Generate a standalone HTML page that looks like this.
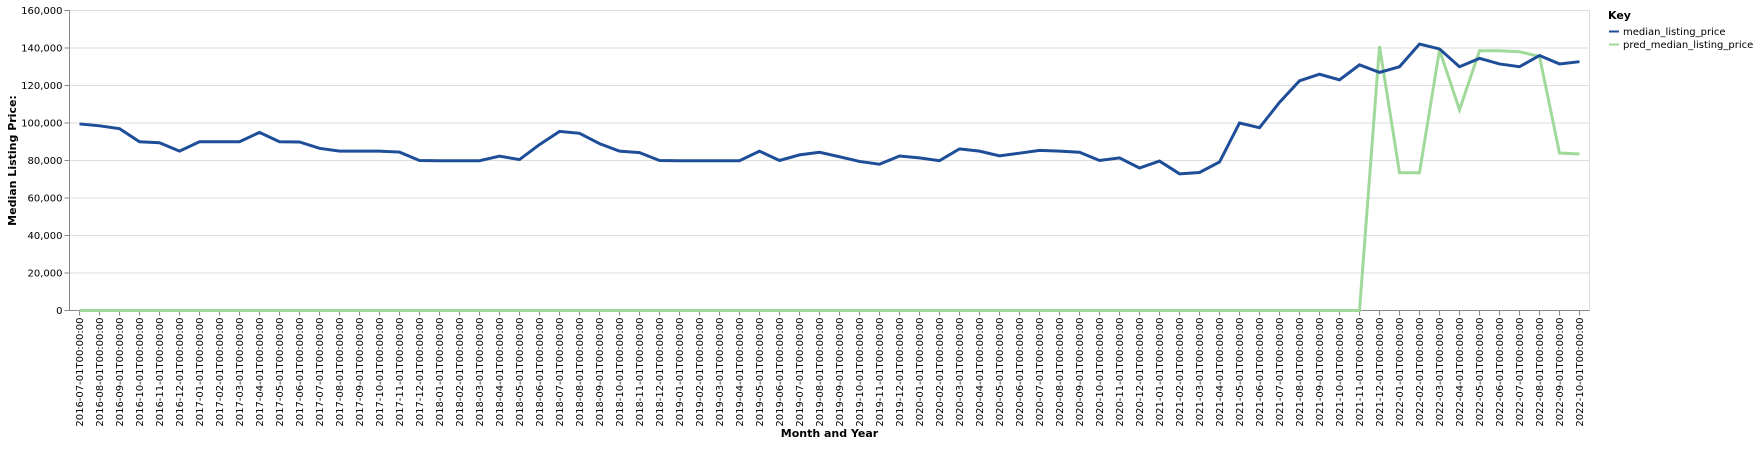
<!DOCTYPE html>
<html><head><meta charset="utf-8"><style>
body{margin:0;background:#fff;font-family:"DejaVu Sans","Liberation Sans",sans-serif}
svg text{font-family:"DejaVu Sans","Liberation Sans",sans-serif}
</style></head><body>
<svg id="chart" width="1759" height="447" xmlns="http://www.w3.org/2000/svg"></svg>
<script>
const months = [];
for (let y = 2016, m = 7; !(y === 2022 && m === 11); ) { months.push(y + '-' + String(m).padStart(2, '0') + '-01T00:00:00'); m++; if (m > 12) { m = 1; y++; } }
const medianPrice = [99500,98500,97000,90000,89500,85000,90000,90000,90000,95000,90000,89900,86500,85000,85000,85000,84500,80000,79900,79900,79900,82300,80500,88500,95500,94500,89000,85000,84200,80000,79900,79900,79900,79900,85000,80000,83000,84400,82000,79500,78000,82400,81400,79900,86200,85000,82500,83900,85400,85000,84400,80000,81400,76000,79700,72900,73600,79200,100000,97500,111000,122500,126000,123000,131000,127000,130000,142100,139500,130000,134500,131500,130000,136000,131500,132700];
const predPrice = [];
for (let i = 0; i < 65; i++) predPrice.push(0);
predPrice.push(141000,73500,73500,139000,107000,138500,138500,138000,135500,84000,83500);
const yTicks = [0,20000,40000,60000,80000,100000,120000,140000,160000];

const NS = 'http://www.w3.org/2000/svg';
const svg = document.getElementById('chart');
const L = 69.5, R = 1589.5, T = 10.5, B = 310.5;
const step = (R - L) / months.length;
const x = i => L + step * (i + 0.5);
const y = v => B - v / 160000 * (B - T);
function mk(tag, attrs, parent) { const e = document.createElementNS(NS, tag); for (const k in attrs) e.setAttribute(k, attrs[k]); (parent || svg).appendChild(e); return e; }

const grid = mk('g', {});


yTicks.forEach(t => {
  mk('line', {x1: L, x2: R, y1: y(t), y2: y(t), stroke: '#ddd', 'stroke-width': 1}, grid);
  mk('line', {x1: L - 5, x2: L, y1: y(t), y2: y(t), stroke: '#888'});
  const lb = mk('text', {x: L - 7, y: y(t) + 3.5, 'text-anchor': 'end', 'font-size': 10, fill: '#000'});
  lb.textContent = t.toLocaleString('en-US');
  
  
});
mk('line', {x1: R, x2: R, y1: T, y2: B, stroke: '#ddd'}, grid);
mk('line', {x1: L, x2: L, y1: T, y2: B, stroke: '#888'});
mk('line', {x1: L, x2: R, y1: B, y2: B, stroke: '#888'});
months.forEach((m, i) => {
  mk('line', {x1: x(i), x2: x(i), y1: B, y2: B + 5, stroke: '#888'});
  const t = mk('text', {transform: `translate(${x(i) + 3.5},${B + 7}) rotate(-90)`, 'text-anchor': 'end', 'font-size': 10, fill: '#000'});
  t.textContent = m;
  
  
});
function line(data, color, name) {
  const p = mk('path', {d: data.map((v, i) => (i ? 'L' : 'M') + x(i).toFixed(2) + ',' + y(v).toFixed(2)).join(''), fill: 'none', stroke: color, 'stroke-width': 3});
  
  
}
line(predPrice, '#a1d99b', 'pred-median-listing-price-line');
line(medianPrice, '#1f4e99', 'median-listing-price-line');

const xt = mk('text', {x: (L + R) / 2, y: 437, 'text-anchor': 'middle', 'font-size': 11, 'font-weight': 'bold'});
xt.textContent = 'Month and Year';


const yt = mk('text', {transform: `translate(16,${(T + B) / 2}) rotate(-90)`, 'text-anchor': 'middle', 'font-size': 11, 'font-weight': 'bold'});
yt.textContent = 'Median Listing Price:';



const lg = mk('g', {});


const kt = mk('text', {x: 1608, y: 19, 'font-size': 11, 'font-weight': 'bold'}, lg);
kt.textContent = 'Key';
[['median_listing_price', '#1f4e99'], ['pred_median_listing_price', '#a1d99b']].forEach((e, i) => {
  const g = mk('g', {}, lg);
  
  
  mk('line', {x1: 1609, x2: 1619, y1: 31.5 + i * 13, y2: 31.5 + i * 13, stroke: e[1], 'stroke-width': 2}, g);
  const t = mk('text', {x: 1623, y: 35 + i * 13, 'font-size': 10}, g);
  t.textContent = e[0];
});
</script>
</body></html>
